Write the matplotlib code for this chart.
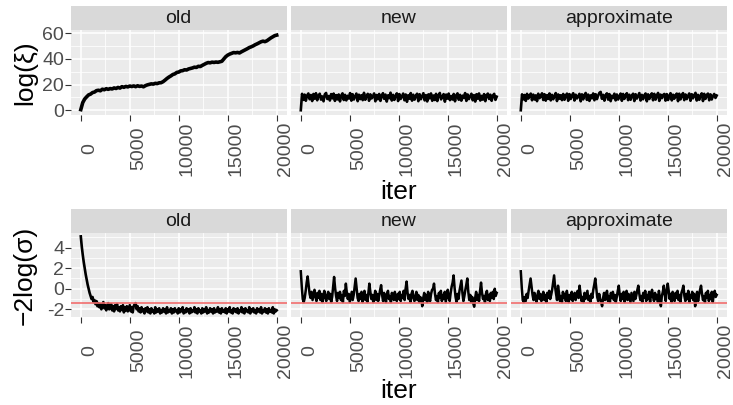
import numpy as np
import matplotlib
matplotlib.use("Agg")
import matplotlib.pyplot as plt

plt.rcParams['font.family'] = ['Liberation Sans', 'DejaVu Sans']

# facets
methods = ['old', 'new', 'approximate']
iter_ticks = [0, 5000, 10000, 15000, 20000]

# log(xi) traces at even steps over 0..20000 iterations
logxi_old = [0.5, 6.0, 8.8, 10.5, 12.0, 12.6, 13.8, 14.2, 15.3, 15.6, 15.2, 16.4, 16.0, 16.8, 16.3,
             16.9, 16.6, 17.4, 17.0, 17.8, 17.3, 18.4, 17.9, 18.6, 18.2, 18.9, 18.5, 19.0, 18.4, 19.1,
             18.6, 18.9, 18.3, 19.2, 19.8, 20.2, 20.6, 20.4, 21.0, 20.8, 21.4, 21.5, 22.3, 23.5, 24.8,
             25.9, 26.8, 27.9, 28.4, 29.5, 29.8, 30.7, 30.9, 31.6, 31.4, 32.2, 32.6, 33.0, 33.6, 33.4,
             34.3, 34.1, 35.0, 35.8, 36.6, 37.2, 37.0, 37.5, 37.3, 37.6, 37.4, 37.8, 38.2, 40.0, 41.8,
             43.0, 43.8, 44.4, 45.0, 44.8, 45.1, 44.7, 45.6, 46.4, 47.2, 48.0, 48.9, 49.5, 50.2, 51.1,
             51.8, 52.6, 53.4, 53.9, 53.5, 54.2, 55.3, 56.4, 57.3, 58.2, 58.6]
logxi_new = [0.0, 12.8, 8.1, 12.2, 7.4, 11.6, 13.1, 8.6, 11.9, 7.2, 12.7, 9.0, 13.3, 7.8, 11.4, 12.9,
             8.3, 10.8, 7.0, 12.4, 13.5, 8.8, 11.1, 7.6, 12.6, 9.3, 13.0, 7.3, 11.8, 8.5, 12.3, 6.9,
             11.5, 13.2, 8.0, 12.0, 7.7, 11.3, 9.1, 13.4, 7.5, 12.5, 8.4, 10.9, 13.0, 7.1, 12.1, 8.7,
             11.7, 7.9, 13.6, 8.2, 11.2, 12.8, 7.4, 12.4, 9.2, 10.6, 13.1, 7.0, 11.9, 8.6, 12.7, 7.3,
             11.0, 13.3, 8.9, 12.2, 6.8, 11.6, 9.4, 13.7, 7.6, 12.0, 8.1, 11.4, 13.2, 7.2, 12.6, 8.8,
             10.8, 13.0, 7.8, 12.3, 6.6, 11.7, 9.0, 13.4, 7.5, 12.1, 8.3, 11.3, 12.9, 7.1, 12.5, 8.6,
             11.0, 13.3, 7.7, 11.8, 6.9, 12.4, 9.3, 13.1, 7.4, 11.5, 8.0, 12.8, 7.2, 11.9, 13.5, 8.5,
             10.7, 12.6, 6.7, 12.2, 9.1, 13.0, 7.9, 11.1, 8.4, 12.7, 7.0, 11.6, 13.2, 8.2, 12.0, 7.5,
             11.4, 9.5, 13.4, 7.3, 12.3, 8.7, 10.9, 12.9, 7.8, 11.8, 6.8, 12.5, 9.0, 13.1, 7.6, 11.2,
             8.3, 12.6, 7.1, 11.7, 13.0, 8.8, 12.1, 7.4, 11.5, 12.8, 8.1, 10.6]
logxi_approx = [0.0, 12.4, 8.5, 11.9, 7.3, 12.8, 9.1, 11.2, 13.0, 7.8, 12.2, 8.4, 11.6, 7.1, 12.9, 9.4,
                11.0, 13.2, 8.0, 12.5, 7.5, 11.8, 8.9, 13.1, 7.7, 12.0, 8.6, 11.3, 13.4, 7.2, 12.3, 9.0,
                11.7, 7.9, 12.7, 8.2, 11.1, 13.0, 7.4, 12.6, 8.8, 11.5, 13.3, 7.6, 12.1, 9.2, 10.9, 12.8,
                7.0, 12.4, 8.5, 11.9, 13.5, 8.1, 12.2, 7.3, 11.6, 9.3, 13.1, 7.8, 12.5, 8.7, 11.4, 13.6,
                14.3, 9.0, 12.0, 7.5, 11.8, 13.2, 8.3, 12.6, 7.1, 11.3, 9.5, 12.9, 7.7, 12.3, 8.4, 11.0,
                13.0, 7.4, 12.7, 8.9, 11.6, 13.3, 7.9, 12.1, 8.2, 11.5, 12.9, 7.2, 12.5, 9.1, 11.2, 13.4,
                7.6, 12.0, 8.6, 11.7, 13.1, 7.0, 12.4, 8.8, 11.4, 13.2, 7.8, 12.8, 8.3, 11.1, 13.5, 7.3,
                12.2, 9.4, 11.9, 12.7, 7.5, 12.6, 8.0, 11.3, 13.3, 7.7, 12.1, 9.0, 11.8, 13.0, 7.1, 12.9,
                8.5, 11.6, 13.4, 7.9, 12.3, 8.7, 11.2, 13.1, 7.4, 12.5, 9.3, 11.7, 13.6, 7.6, 12.0, 8.2,
                11.4, 13.2, 7.2, 12.8, 8.9, 11.9, 13.0, 7.8, 12.4, 8.4, 11.1, 12.7, 9.6, 11.5]

# -2 log(sigma) traces, every 100 iterations
sig_old = [5.1, 4.1, 3.3, 2.6, 2.0, 1.4, 0.9, 0.4, 0.0, -0.4, -0.7, -1.0, -0.8, -1.3, -1.1, -1.5, -1.2, -1.7, -1.4, -1.8,
           -1.5, -2.0, -1.6, -1.3, -1.9, -1.6, -2.1, -1.7, -1.4, -2.0, -1.8, -1.5, -2.1, -1.7, -2.2, -1.6, -1.9, -1.5, -2.1, -1.8,
           -2.2, -1.7, -2.0, -1.6, -2.3, -1.8, -2.1, -1.7, -2.2, -1.9, -1.6, -2.2, -1.8, -2.3, -1.7, -1.5, -1.4, -2.0, -1.7, -2.2,
           -1.9, -2.3, -1.8, -2.2, -2.0, -2.4, -1.9, -2.2, -1.8, -2.3, -2.0, -2.4, -1.9, -2.2, -2.1, -2.4, -1.8, -2.3, -2.0, -2.2,
           -1.9, -2.4, -2.1, -2.3, -1.9, -2.2, -2.0, -2.4, -1.8, -2.3, -2.1, -2.2, -1.9, -2.4, -2.0, -2.3, -1.9, -2.2, -2.1, -2.4,
           -1.9, -2.3, -2.0, -2.2, -1.8, -2.4, -2.1, -2.3, -1.9, -2.2, -2.0, -2.4, -1.9, -2.3, -2.1, -2.2, -1.8, -2.3, -2.0, -2.4,
           -1.9, -2.2, -2.1, -2.4, -1.9, -2.3, -2.0, -2.2, -1.8, -2.4, -2.1, -2.3, -1.9, -2.2, -2.0, -2.4, -1.9, -2.3, -2.1, -2.2,
           -1.8, -2.3, -2.0, -2.4, -1.9, -2.2, -2.1, -2.3, -1.9, -2.4, -2.0, -2.2, -1.8, -2.3, -2.1, -2.4, -1.9, -2.2, -2.0, -2.3,
           -1.9, -2.4, -2.1, -2.2, -1.8, -2.3, -2.0, -2.4, -1.9, -2.2, -2.1, -2.3, -1.8, -2.4, -2.0, -2.2, -1.9, -2.3, -2.1, -2.4,
           -1.9, -2.2, -2.0, -2.3, -1.8, -2.4, -2.1, -2.2, -1.9, -2.3, -2.0, -2.4, -1.9, -2.2, -2.1, -2.3, -1.8, -2.4, -2.0, -2.2, -2.1]
sig_new = [1.7, 0.2, -1.0, -1.3, -0.9, -0.2, 0.6, 1.2, 0.3, -0.5, -0.9, -0.3, -1.1, -0.6, -0.1, -0.8, -1.2, -0.4, -0.9, -0.2,
           -1.1, -0.5, -1.3, -0.7, -0.2, -0.9, -1.2, -0.6, -0.3, -1.0, -0.5, -1.3, -0.8, 0.2, 1.15, 0.1, -0.7, -1.2, -0.4, -0.9,
           -0.3, -1.1, -0.6, -1.3, -0.2, -0.7, 0.5, -0.4, -1.0, -0.5, -1.3, -0.8, -0.3, -1.1, -0.6, 0.2, 1.0, 0.0, -0.9, -1.2,
           -0.5, -1.0, -0.3, -1.3, -0.7, -0.2, -1.1, -0.6, -1.3, -0.4, 0.5, -0.3, -1.0, -0.6, -1.3, -0.8, -0.2, -1.1, -0.5, -1.2,
           -0.7, -0.1, 0.35, -0.6, -1.2, -0.4, -0.9, -1.3, -0.5, -0.2, -1.0, -0.7, -1.3, -0.4, -0.8, -1.1, -0.3, -0.9, -1.2, -0.5,
           -1.0, -0.3, -1.2, -0.6, -0.9, -0.2, -1.1, 0.0, 0.7, -0.4, -1.0, -0.6, -1.3, -0.5, -0.2, -0.9, -1.2, -0.7, -0.3, -1.1,
           -0.6, -1.3, -0.8, -1.0, -1.7, -0.9, -0.4, -1.1, -0.6, -1.3, -0.3, -0.8, -1.2, -0.5, -0.1, 0.0, 0.5, -0.5, -1.1, -0.7,
           -1.3, -0.4, -0.9, -0.2, -1.2, -0.6, -1.0, -0.3, -1.3, -0.7, -0.1, -0.9, -1.2, -0.4, 0.2, 0.6, 1.3, 0.1, -0.8, -1.3,
           -0.5, -1.0, -0.2, 0.3, 0.8, -0.4, -1.2, -0.7, -0.1, 0.4, 1.0, -0.3, -1.1, -0.6, -1.3, -0.8, -1.4, -1.75, -0.9, -0.3,
           -1.1, -0.6, -1.2, -0.2, 0.6, -0.4, -1.0, -0.7, -1.3, -0.5, -0.2, -1.1, -0.6, -1.2, -0.4, -0.9, -0.3, -1.0, 0.0, -0.7, -0.4]
sig_approx = [1.7, 0.1, -1.1, -1.3, -0.8, -1.2, -0.5, -0.9, -0.2, 0.4, 1.0, 0.2, -0.6, -1.1, -0.4, -0.9, -1.3, -0.6, -0.2, -1.0,
              -0.5, -1.2, -0.8, -0.3, -1.1, -0.6, -1.3, -0.4, -0.9, -0.2, -1.0, -0.6, -0.1, 0.6, 1.3, 0.2, -0.5, -1.1, 0.3, -0.4,
              -1.2, -0.7, -1.3, -0.3, -0.9, -0.5, -1.2, -0.2, -0.8, -1.3, -0.6, -1.0, -0.3, -1.2, -0.7, -0.4, -1.1, -0.6, -0.2, -0.9,
              0.3, -0.5, -1.2, -0.8, -1.3, -0.4, -1.0, -0.6, -0.2, -1.1, -0.7, -1.3, -0.5, -0.9, -0.1, 0.4, 1.0, 0.1, -0.8, -1.2,
              -0.5, -1.0, -1.3, -1.7, -0.9, -0.4, -1.1, -0.6, -0.2, -1.2, -0.7, -1.3, -0.4, -0.9, -0.3, -1.1, -0.6, -1.3, -0.8, -0.2,
              0.3, -0.6, -1.2, -0.5, -1.0, -0.3, -1.3, -0.7, -0.2, -1.1, -0.5, -0.9, -1.3, -0.4, -0.8, -1.2, -0.3, -1.0, -0.6, -0.1,
              0.3, -0.5, -1.1, -0.7, -1.3, -0.4, -0.9, -0.2, -1.2, -0.6, -1.0, -0.3, -1.3, -0.5, -0.1, -0.8, -1.2, -0.4, -1.0, -0.6,
              -1.3, -0.2, -0.9, -1.7, -0.7, -0.3, 0.3, -0.6, -1.2, -0.1, 0.5, -0.2, -1.0, -0.5, -1.3, -0.3, -0.8, -1.2, -0.4, -0.9,
              -0.2, -1.1, -0.6, -1.3, -0.4, -0.1, 0.3, -0.7, -1.2, -0.5, -1.0, -0.2, -1.3, -0.6, -0.9, -0.3, -1.1, -0.5, -1.7, -0.8,
              -0.3, -1.2, -0.6, -0.1, 0.3, -0.5, -1.1, -0.7, -1.3, -0.4, -0.9, -0.2, -1.2, -0.6, -1.0, -0.3, -1.3, -0.5, -0.2, -0.8, -0.6]
sigma_ref = -1.39

W, H = 733, 405
fig = plt.figure(figsize=(W / 100, H / 100), dpi=100)

PANEL_X = [71, 291, 511]
PANEL_W = 215.5


def px_axes(x0, y0, x1, y1):
    return fig.add_axes([x0 / W, 1 - y1 / H, (x1 - x0) / W, (y1 - y0) / H])


def draw_row(strip_top, top, bottom, series, ylim, yticks, yminor, ylabel, widths, hline=None):
    for i, (name, vals) in enumerate(zip(methods, series)):
        x0 = PANEL_X[i]
        # facet strip
        sax = px_axes(x0, strip_top, x0 + PANEL_W, top)
        sax.set_facecolor('#D9D9D9')
        sax.set_xticks([]); sax.set_yticks([])
        for s in sax.spines.values():
            s.set_visible(False)
        sax.text(0.5, 0.47, name, ha='center', va='center', fontsize=14,
                 color='#1A1A1A', transform=sax.transAxes)

        ax = px_axes(x0, top, x0 + PANEL_W, bottom)
        ax.set_facecolor('#EBEBEB')
        for s in ax.spines.values():
            s.set_visible(False)
        it = np.linspace(0, 20000, len(vals))
        ax.plot(it, vals, color='black', lw=widths[i], zorder=3, solid_joinstyle='round')
        if hline is not None:
            ax.axhline(hline, color='#F26D6D', lw=1.4, alpha=0.85, zorder=4)
        ax.set_xlim(-1000, 21000)
        ax.set_ylim(*ylim)
        ax.set_xticks(iter_ticks)
        ax.set_xticks([2500, 7500, 12500, 17500], minor=True)
        ax.set_yticks(yticks)
        ax.set_yticks(yminor, minor=True)
        ax.grid(which='major', color='white', lw=1.1)
        ax.grid(which='minor', color='white', lw=0.55)
        ax.set_axisbelow(True)
        ax.tick_params(which='minor', length=0)
        ax.tick_params(which='major', length=4, width=0.8, color='#333333',
                       labelcolor='#4D4D4D', labelsize=14)
        ax.tick_params(axis='x', pad=20)
        ax.tick_params(axis='y', pad=1)
        ax.set_xticklabels([str(t) for t in iter_ticks], rotation=90, ha='left', va='center')
        if i == 0:
            ax.set_yticklabels([str(t) for t in yticks])
        else:
            ax.tick_params(axis='y', length=0, labelleft=False)

    fig.text(25 / W, 1 - (top + bottom) / 2 / H, ylabel, rotation=90, ha='center',
             va='center', fontsize=19, color='black')


draw_row(6, 30, 115, [logxi_old, logxi_new, logxi_approx], (-3.7, 62.6),
         [0, 20, 40, 60], [10, 30, 50], 'log(ξ)', widths=[2.6, 1.9, 1.9])
fig.text(399 / W, 1 - 192 / H, 'iter', ha='center', va='center', fontsize=19)

draw_row(209, 233, 317, [sig_old, sig_new, sig_approx], (-2.75, 5.43),
         [-2, 0, 2, 4], [-1, 1, 3, 5], '−2log(σ)', widths=[1.9, 1.8, 1.8], hline=sigma_ref)
fig.text(399 / W, 1 - 391 / H, 'iter', ha='center', va='center', fontsize=19)

fig.savefig('out.png', dpi=100)
